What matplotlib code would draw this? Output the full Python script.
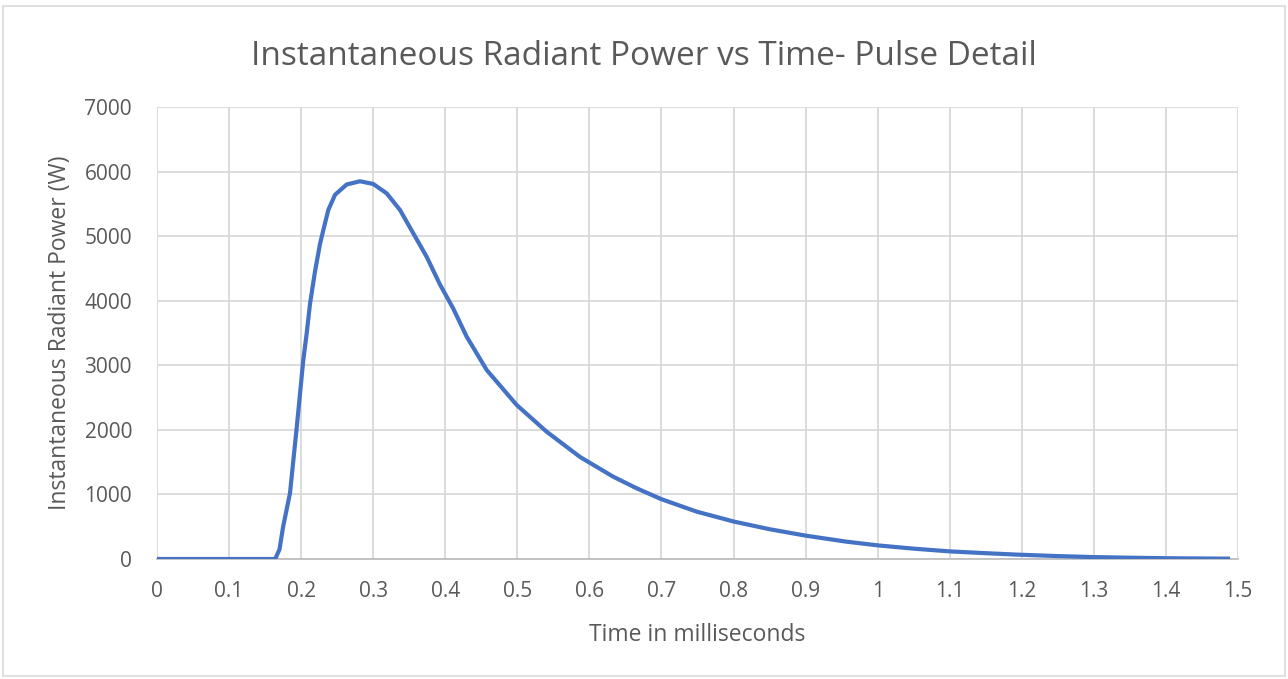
import matplotlib
matplotlib.use("Agg")
import matplotlib.pyplot as plt
from matplotlib.patches import Rectangle

# Data
time_ms = [0, 0.164, 0.170, 0.175, 0.1845, 0.194, 0.203, 0.2077, 0.2123, 0.2192,
           0.2262, 0.2308, 0.2377, 0.247, 0.2632, 0.2817, 0.300, 0.3187, 0.3372,
           0.3556, 0.3741, 0.3927, 0.411, 0.4297, 0.4575, 0.4991, 0.5407, 0.587,
           0.633, 0.6656, 0.6993, 0.749, 0.801, 0.8506, 0.9005, 0.957, 1.001,
           1.05, 1.100, 1.15, 1.193, 1.25, 1.299, 1.35, 1.40, 1.489]
power_w = [0, 0, 150, 500, 1017, 2049, 3082, 3495, 3950, 4450,
           4880, 5095, 5405, 5640, 5800, 5850, 5808, 5663, 5405,
           5044, 4682, 4250, 3880, 3443, 2927, 2385, 1971, 1580,
           1275, 1095, 929, 733, 578, 460, 361, 268, 210,
           160, 118, 90, 68, 45, 30, 20, 12, 5]

x_ticks = [0, 0.1, 0.2, 0.3, 0.4, 0.5, 0.6, 0.7, 0.8, 0.9, 1.0, 1.1, 1.2, 1.3, 1.4, 1.5]
x_tick_labels = ["0", "0.1", "0.2", "0.3", "0.4", "0.5", "0.6", "0.7", "0.8", "0.9",
                 "1", "1.1", "1.2", "1.3", "1.4", "1.5"]
y_ticks = [0, 1000, 2000, 3000, 4000, 5000, 6000, 7000]

title = "Instantaneous Radiant Power vs Time- Pulse Detail"
x_label = "Time in milliseconds"
y_label = "Instantaneous Radiant Power (W)"

plt.rcParams['font.family'] = ['Open Sans', 'DejaVu Sans']
text_color = "#595959"
grid_color = "#d9d9d9"

fig = plt.figure(figsize=(12.88, 6.79), dpi=100)
ax = fig.add_axes([157/1288, 1 - 559/679, (1238-157)/1288, (559-107)/679])

ax.plot(time_ms, power_w, color="#4472C4", lw=3.0, solid_joinstyle='round',
        solid_capstyle='butt', zorder=3)

ax.set_xlim(0, 1.5)
ax.set_ylim(0, 7000)
ax.set_xticks(x_ticks)
ax.set_xticklabels(x_tick_labels)
ax.set_yticks(y_ticks)
ax.grid(True, color=grid_color, lw=1.3)
ax.set_axisbelow(True)
for s in ["top", "right", "left"]:
    ax.spines[s].set_visible(False)
ax.spines["bottom"].set_color("#bfbfbf")
ax.spines["bottom"].set_linewidth(1.3)
ax.tick_params(axis='both', length=0, labelsize=15, labelcolor=text_color)
ax.tick_params(axis='x', pad=16)
ax.tick_params(axis='y', pad=18)

ax.set_xlabel(x_label, fontsize=16.5, color=text_color, labelpad=15)
ax.set_ylabel(y_label, fontsize=16.5, color=text_color, labelpad=9)

fig.text(0.5, 1 - 65/679, title, ha='center', va='baseline', fontsize=24, color=text_color)

fig.patches.append(Rectangle((3/1288, 3/679), 1282/1288, 670/679, transform=fig.transFigure,
                             fill=False, edgecolor=grid_color, lw=1.2))

fig.savefig("out.png", dpi=100, facecolor="white")
